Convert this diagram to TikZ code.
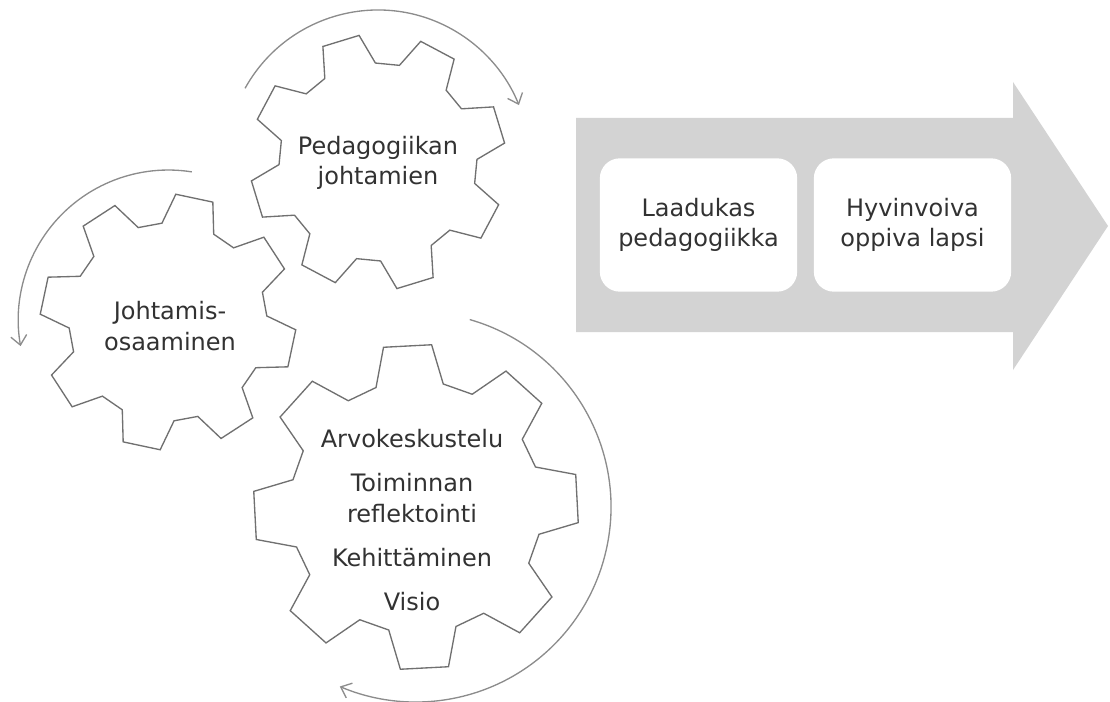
\documentclass[tikz,border=0pt]{standalone}
\usepackage{fontspec}
\setmainfont{DejaVu Sans}
\usetikzlibrary{arrows.meta,calc}

\definecolor{gearGrey}{RGB}{112,112,112}
\definecolor{cycleGrey}{RGB}{140,140,140}
\definecolor{flowGrey}{RGB}{211,211,211}
\definecolor{inkGrey}{RGB}{50,50,50}

\tikzset{every picture/.style={line width=0.75pt}}
\tikzset{
  gearline/.style={draw=gearGrey, fill=white, line width=1pt, line join=miter},
  cyclearrow/.style={draw=cycleGrey, line width=1pt, -{Straight Barb[length=7pt,width=12pt]}},
  geartext/.style={text=inkGrey, align=center, font=\fontsize{18}{23}\selectfont, inner sep=0.75pt},
  flowbox/.style={fill=white, rounded corners=15pt, minimum width=148pt, minimum height=100pt,
    text=inkGrey, align=center, font=\fontsize{18}{22}\selectfont, inner sep=0.75pt}
}

\begin{document}
\begin{tikzpicture}[x=0.75pt,y=0.75pt,yscale=-1,xscale=1]
\useasboundingbox (0,0) rectangle (1110,702);

%Shape: flow arrow
\fill[flowGrey] (576,118) -- (1013,118) -- (1013,82) -- (1108,226) -- (1013,370) -- (1013,332) -- (576,332) -- cycle;

%Gear centres
\coordinate (valuesgear) at (416,507);
\coordinate (leadgear) at (168,322);
\coordinate (pedagear) at (378,162);

%Shape: gear, bottom
\draw[gearline] ($(valuesgear)+(-3+15.5:126)$)
  \foreach \k in {0,...,7} { -- ($(valuesgear)+({-3-45*\k+15.5}:126)$) -- ($(valuesgear)+({-3-45*\k+8.5}:163)$) -- ($(valuesgear)+({-3-45*\k-8.5}:163)$) -- ($(valuesgear)+({-3-45*\k-15.5}:126)$) } -- cycle;
%Shape: gear, left
\draw[gearline] ($(leadgear)+(-33+15.5:99)$)
  \foreach \k in {0,...,7} { -- ($(leadgear)+({-33-45*\k+15.5}:99)$) -- ($(leadgear)+({-33-45*\k+8.5}:128)$) -- ($(leadgear)+({-33-45*\k-8.5}:128)$) -- ($(leadgear)+({-33-45*\k-15.5}:99)$) } -- cycle;
%Shape: gear, top
\draw[gearline] ($(pedagear)+(-17+15.5:99)$)
  \foreach \k in {0,...,7} { -- ($(pedagear)+({-17-45*\k+15.5}:99)$) -- ($(pedagear)+({-17-45*\k+8.5}:128)$) -- ($(pedagear)+({-17-45*\k-8.5}:128)$) -- ($(pedagear)+({-17-45*\k-15.5}:99)$) } -- cycle;

%Cycle arrows round the gears
\draw[cyclearrow] ($(pedagear)+(-151:152)$) arc[start angle=-151, end angle=-22, radius=152];
\draw[cyclearrow] ($(leadgear)+(-81:152)$) arc[start angle=-81, end angle=-190, radius=150];
\draw[cyclearrow] ($(valuesgear)+(-74:195)$) arc[start angle=-74, end angle=113, radius=195];

%Texts
\node[geartext] (pedagogy) at (378,163) {Pedagogiikan\\johtamien};
\node[geartext] (leadership) at (170,326) {Johtamis-\\osaaminen};
\node[geartext] (values) at (412,520) {Arvokeskustelu\\[10pt]Toiminnan\\reflektointi\\[10pt]Kehittäminen\\[10pt]Visio};

\node[flowbox] (quality) at (698.5,225) {Laadukas\\pedagogiikka};
\node[flowbox] (child) at (912.5,225) {Hyvinvoiva\\oppiva lapsi};

\end{tikzpicture}
\end{document}
